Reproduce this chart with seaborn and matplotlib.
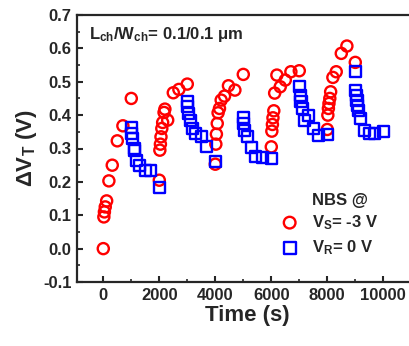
import numpy as np
import pandas as pd
import matplotlib
matplotlib.use("Agg")
import matplotlib.pyplot as plt
from matplotlib.ticker import MultipleLocator
import seaborn as sns

# ---- data ----
stress_bases = [0, 2000, 4000, 6000, 8000]
stress_offsets = [
    [0, 20, 40, 70, 120, 200, 320, 500, 700, 1000],
    [0, 20, 40, 60, 90, 120, 170, 200, 300, 500, 700, 1000],
    [0, 20, 40, 70, 100, 150, 210, 330, 470, 700, 1000],
    [0, 20, 40, 60, 90, 120, 200, 320, 500, 700, 1000],
    [0, 20, 40, 60, 90, 120, 200, 320, 500, 700, 1000],
]
stress_dvt = [
    [0.0, 0.095, 0.11, 0.125, 0.143, 0.203, 0.25, 0.323, 0.368, 0.45],
    [0.205, 0.295, 0.313, 0.335, 0.36, 0.378, 0.408, 0.418, 0.385, 0.467, 0.477, 0.493],
    [0.253, 0.313, 0.343, 0.375, 0.407, 0.42, 0.445, 0.457, 0.488, 0.475, 0.522],
    [0.305, 0.352, 0.372, 0.392, 0.413, 0.466, 0.52, 0.485, 0.505, 0.53, 0.533],
    [0.357, 0.40, 0.42, 0.435, 0.45, 0.47, 0.513, 0.53, 0.585, 0.607, 0.558],
]
recov_bases = [1000, 3000, 5000, 7000, 9000]
recov_offsets = [
    [0, 20, 50, 100, 120, 200, 300, 500, 700, 1000],
    [0, 20, 50, 100, 200, 300, 500, 700, 1000],
    [0, 20, 50, 150, 300, 450, 700, 1000],
    [0, 30, 60, 100, 180, 320, 500, 700, 1000],
    [0, 20, 40, 60, 90, 120, 200, 320, 500, 700, 1000],
]
recov_dvt = [
    [0.363, 0.345, 0.33, 0.30, 0.295, 0.263, 0.25, 0.235, 0.233, 0.182],
    [0.44, 0.425, 0.405, 0.385, 0.36, 0.345, 0.335, 0.307, 0.262],
    [0.392, 0.375, 0.355, 0.335, 0.303, 0.275, 0.274, 0.27],
    [0.485, 0.46, 0.44, 0.42, 0.385, 0.40, 0.36, 0.34, 0.343],
    [0.53, 0.475, 0.46, 0.445, 0.43, 0.415, 0.39, 0.355, 0.345, 0.345, 0.35],
]
series_labels = ["V$_{S}$= -3 V", "V$_{R}$= 0 V"]
series_colors = ["#ff0000", "#0000ff"]
series_markers = ["o", "s"]

def build(bases, offsets, values):
    t, v = [], []
    for b, o, y in zip(bases, offsets, values):
        t += [b + k for k in o]
        v += y
    return pd.DataFrame({"time": t, "dvt": v})

stress_df = build(stress_bases, stress_offsets, stress_dvt)
recov_df = build(recov_bases, recov_offsets, recov_dvt)

# ---- style ----
sns.set_style("ticks")
plt.rcParams["font.family"] = ["Liberation Sans", "DejaVu Sans"]
plt.rcParams["font.weight"] = "bold"
plt.rcParams["axes.unicode_minus"] = False
plt.rcParams["mathtext.fontset"] = "custom"
plt.rcParams["mathtext.rm"] = "Liberation Sans:bold"
plt.rcParams["mathtext.it"] = "Liberation Sans:bold"
plt.rcParams["mathtext.bf"] = "Liberation Sans:bold"
plt.rcParams["mathtext.default"] = "regular"

fig = plt.figure(figsize=(4.10, 3.46), dpi=100)
ax = fig.add_axes([77 / 410, 1 - 282 / 346, (418 - 77) / 410, (282 - 15) / 346])

for df, lab, col, mk in zip([stress_df, recov_df], series_labels, series_colors, series_markers):
    sns.scatterplot(data=df, x="time", y="dvt", ax=ax, marker=mk, s=64,
                    color=col, facecolors="none", edgecolor=col, linewidth=1.7,
                    label=lab, zorder=3)

ax.set_xlim(-939, 11240)
ax.set_ylim(-0.1, 0.7)
ax.xaxis.set_major_locator(MultipleLocator(2000))
ax.xaxis.set_minor_locator(MultipleLocator(1000))
ax.yaxis.set_major_locator(MultipleLocator(0.1))
ax.yaxis.set_minor_locator(MultipleLocator(0.05))
ax.yaxis.set_major_formatter(matplotlib.ticker.FormatStrFormatter("%.1f"))
ax.tick_params(which="major", direction="in", length=4, width=1.5, labelsize=12, pad=4)
ax.tick_params(which="minor", direction="in", length=2.5, width=1.2)
ax.tick_params(top=False, right=False, which="both")
for sp in ax.spines.values():
    sp.set_linewidth(1.6)
    sp.set_visible(True)

ax.set_xlabel("Time (s)", fontsize=16, fontweight="bold", labelpad=2)
ax.set_ylabel("ΔV$_{T}$ (V)", fontsize=16, fontweight="bold", labelpad=3)

ax.text(89 / 410, 1 - 35 / 346, "L$_{ch}$/W$_{ch}$= 0.1/0.1 μm", transform=fig.transFigure,
        fontsize=12, fontweight="bold", va="center", ha="left")
ax.text(312 / 410, 1 - 200 / 346, "NBS @", transform=fig.transFigure,
        fontsize=12, fontweight="bold", va="center", ha="left")

leg = ax.legend(loc="upper left", bbox_to_anchor=(273 / 410, 1 - 213 / 346),
                bbox_transform=fig.transFigure, frameon=False,
                prop={"size": 12, "weight": "bold"}, handletextpad=0.35,
                labelspacing=0.42, borderaxespad=0, borderpad=0, markerscale=1.05)

fig.savefig("out.png", dpi=100)
